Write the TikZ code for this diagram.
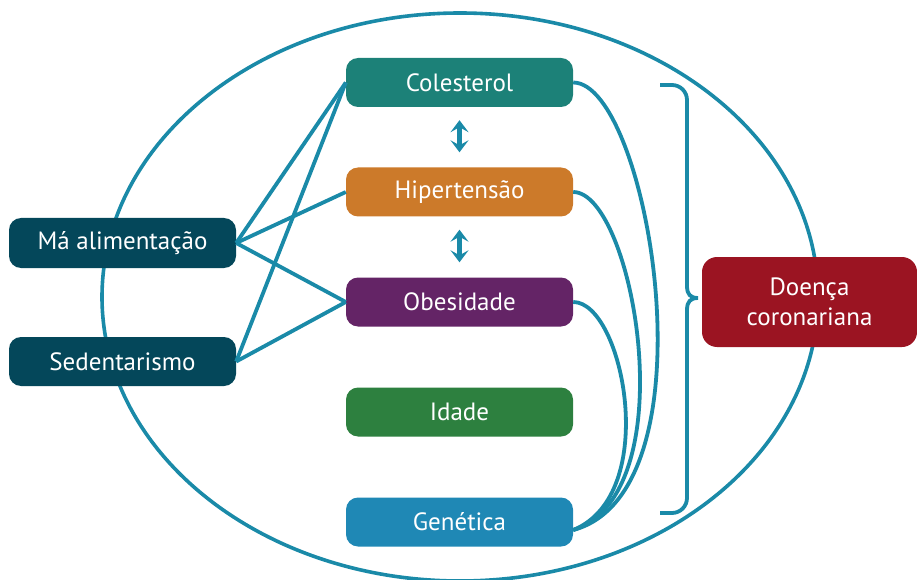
\documentclass[tikz,border=0pt]{standalone}
\usepackage{fontspec}
\setmainfont{PT Sans}
\usetikzlibrary{arrows.meta}
\definecolor{linkblue}{HTML}{1A8AA8}
\definecolor{cteal}{HTML}{1C8178}
\definecolor{corange}{HTML}{CC7A2A}
\definecolor{cpurple}{HTML}{642466}
\definecolor{cgreen}{HTML}{2D803F}
\definecolor{cblue}{HTML}{1F88B5}
\definecolor{cdark}{HTML}{04475A}
\definecolor{cred}{HTML}{9B1422}
\begin{document}
\begin{tikzpicture}[x=1pt,y=1pt,
  box/.style={rounded corners=12pt, minimum width=227pt, minimum height=49pt,
    inner sep=0pt, text=white, font=\fontsize{25}{30}\selectfont},
  link/.style={draw=linkblue, line width=3.8pt},
  twoway/.style={draw=linkblue, line width=5pt,
    {Stealth[length=12pt,width=18pt,inset=5pt]}-{Stealth[length=12pt,width=18pt,inset=5pt]},
    shorten <=13pt, shorten >=15pt}]
\useasboundingbox (0,0) rectangle (917,579);

% surrounding oval
\draw[linkblue, line width=3.6pt] (460,282) ellipse[x radius=358, y radius=284];

% factor boxes
\node[box, fill=cteal]   (col) at (459.5,496.5) {Colesterol};
\node[box, fill=corange] (hip) at (459.5,387)   {Hipertensão};
\node[box, fill=cpurple] (obe) at (459.5,277)   {Obesidade};
\node[box, fill=cgreen]  (ida) at (459.5,167)   {Idade};
\node[box, fill=cblue]   (gen) at (459.5,57)    {Genética};
\node[box, fill=cdark, minimum height=50pt] (ma)  at (122.5,336)   {Má alimentação};
\node[box, fill=cdark]   (sed) at (122.5,217.5) {Sedentarismo};
\node[box, fill=cred, rounded corners=15pt, minimum width=215pt, minimum height=90pt,
  align=center] (doe) at (809.5,277) {Doença\\coronariana};

% lifestyle links
\draw[link] (ma.east) -- (col.west);
\draw[link] (ma.east) -- (hip.west);
\draw[link] (ma.east) -- (obe.west);
\draw[link] (sed.east) -- (col.west);
\draw[link] (sed.east) -- (obe.west);

% mutual influence
\draw[twoway] (col) -- (hip);
\draw[twoway] (hip) -- (obe);

% links to genetics
\draw[link] (col.east) to[out=0, in=15, out distance=75pt, in distance=150pt] ([yshift=-8pt]gen.east);
\draw[link] (hip.east) to[out=0, in=18, out distance=60pt, in distance=120pt] ([yshift=-8pt]gen.east);
\draw[link] (obe.east) to[out=0, in=22, out distance=50pt, in distance=95pt] ([yshift=-8pt]gen.east);

% brace towards the outcome
\draw[linkblue, line width=3.8pt] (660,494) -- (672,494) arc[start angle=90, end angle=0, radius=15]
  -- (687,293) .. controls (687,285) and (690,281) .. (698,281)
  .. controls (690,281) and (687,277) .. (687,269)
  -- (687,81) arc[start angle=0, end angle=-90, radius=15] -- (660,66);
\end{tikzpicture}
\end{document}
